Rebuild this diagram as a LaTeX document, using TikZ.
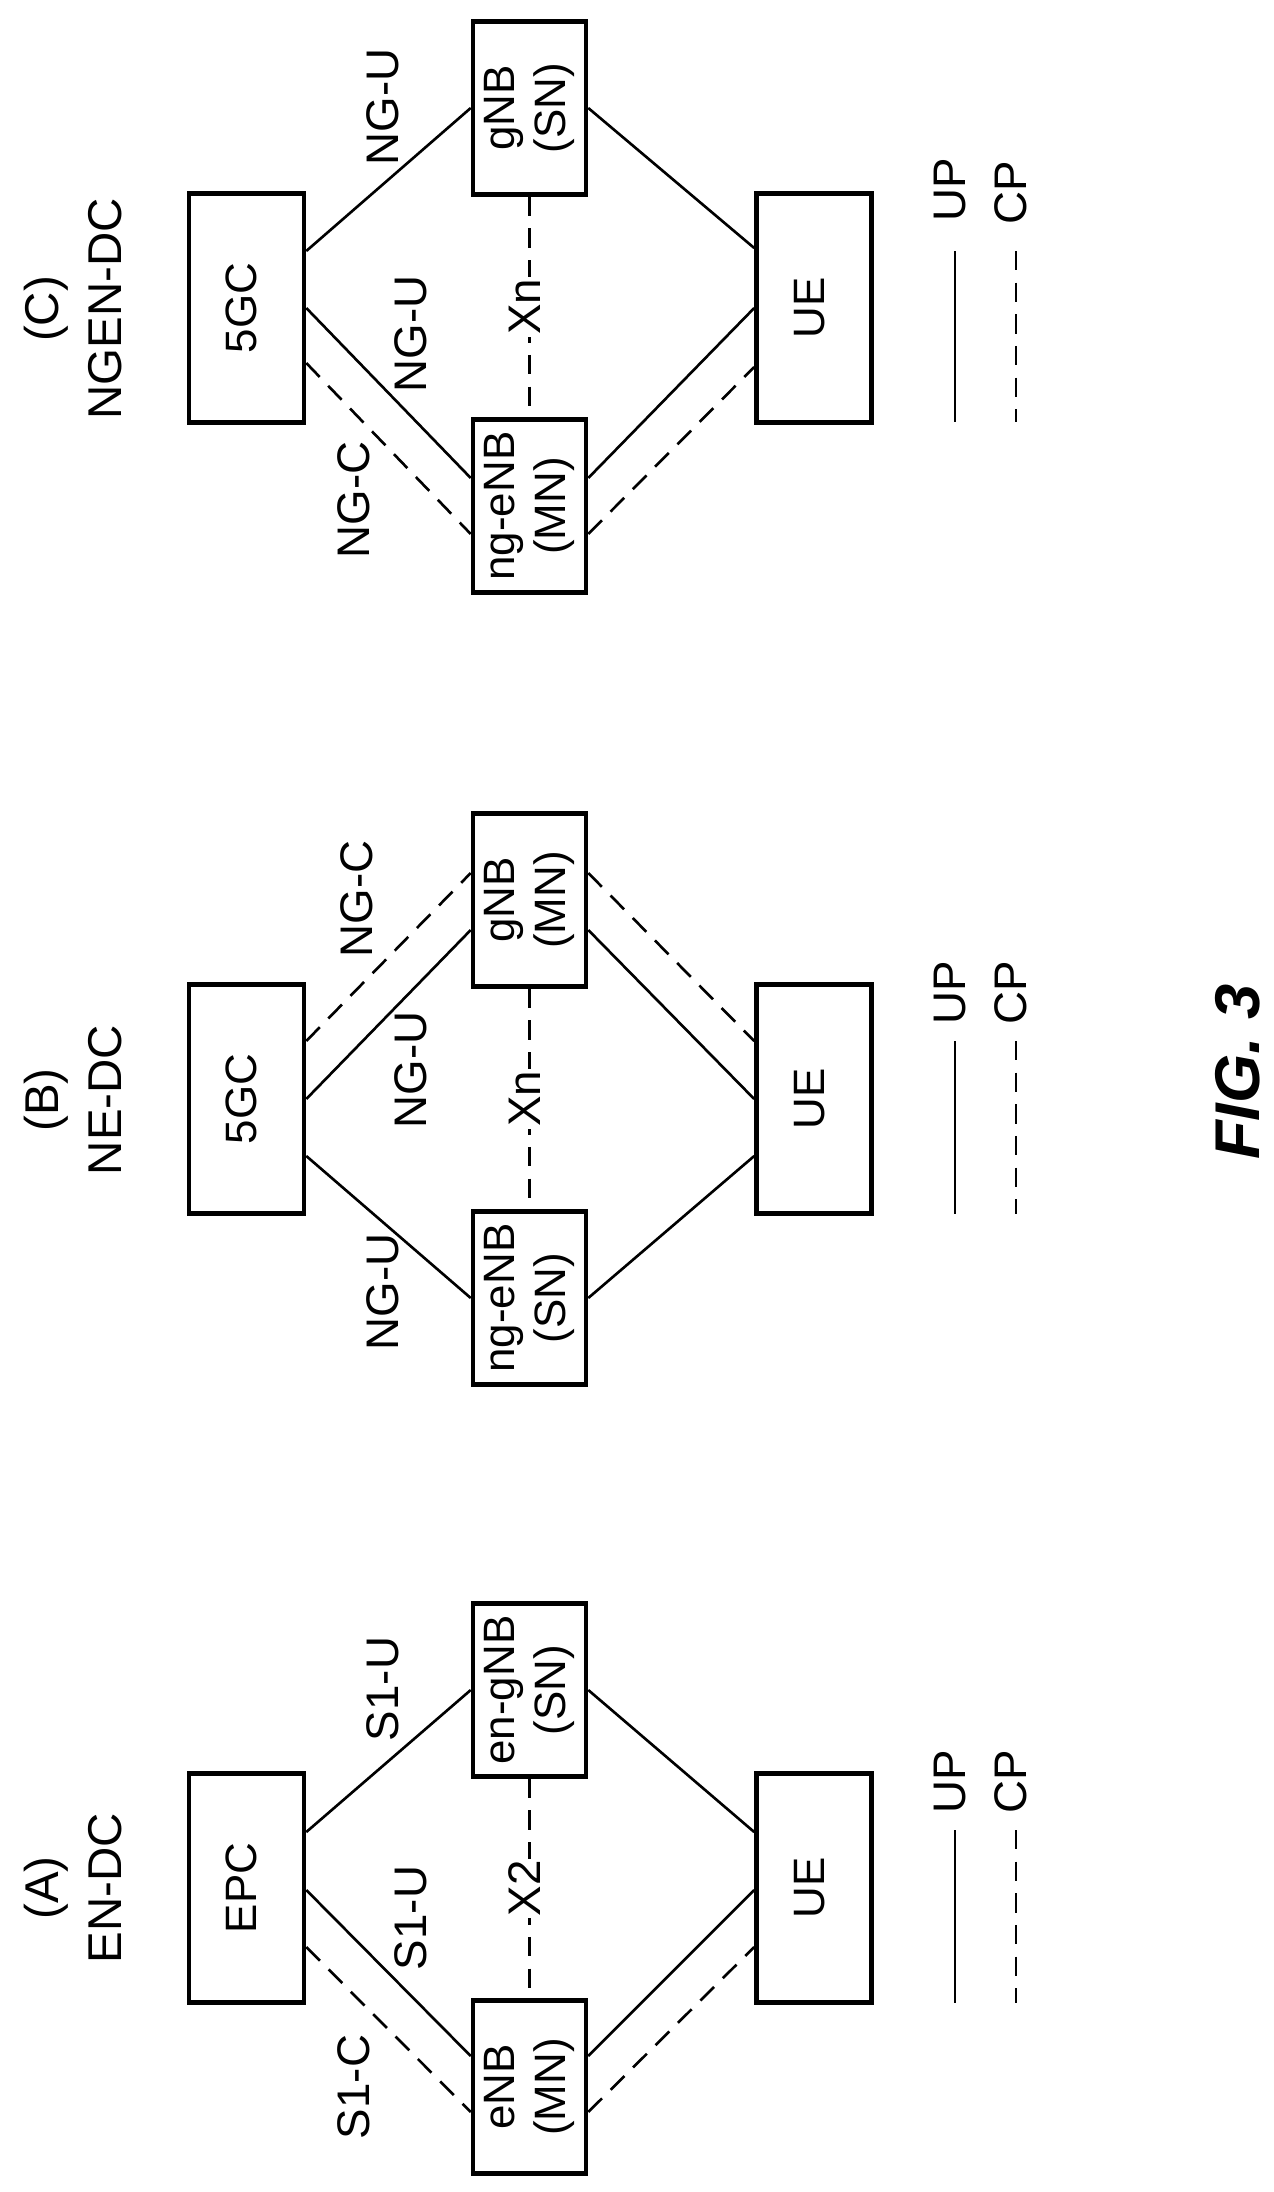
\documentclass[tikz,border=0pt]{standalone}
\usepackage{fontspec}
\setmainfont{Liberation Sans}
\begin{document}
\begin{tikzpicture}[x=0.02cm,y=-0.02cm,
  core/.style={draw,line width=2.6pt,minimum width=2.3cm,minimum height=4.58cm,inner sep=0pt,font=\fontsize{25}{29}\selectfont},
  mid/.style={draw,line width=2.6pt,minimum width=2.26cm,minimum height=3.46cm,inner sep=0pt,font=\fontsize{25}{29}\selectfont},
  up/.style={line width=1.5pt},
  cp/.style={line width=1.5pt,dash pattern=on 11pt off 7pt},
  lbl/.style={font=\fontsize{26}{30}\selectfont,inner sep=1pt},
  ttl/.style={font=\fontsize{27}{36}\selectfont,align=center},
]
\newcommand{\rt}[1]{\rotatebox{90}{\begin{tabular}{@{}c@{}}#1\end{tabular}}}
\fill[white] (0,0) rectangle (1274,2192);
\useasboundingbox (0,0) rectangle (1274,2192);

% ---------- Panel A ----------
\node[ttl] (tA) at (77,1888) {\rt{(A)\\EN-DC}};
\node[core] (epc) at (246.5,1888) {\rt{EPC}};
\node[mid] (engnb) at (529.5,1690) {\rt{en-gNB\\(SN)}};
\node[mid] (enb) at (529.5,2087) {\rt{eNB\\(MN)}};
\node[core] (ueA) at (814,1888) {\rt{UE}};
\draw[up] ([yshift=1.12cm]epc.east) -- (engnb.west);
\draw[up] ([yshift=-0.04cm]epc.east) -- ([yshift=0.62cm]enb.west);
\draw[cp] ([yshift=-1.18cm]epc.east) -- ([yshift=-0.5cm]enb.west);
\draw[up] ([yshift=0.62cm]enb.east) -- ([yshift=-0.04cm]ueA.west);
\draw[cp] ([yshift=-0.5cm]enb.east) -- ([yshift=-1.18cm]ueA.west);
\draw[up] (engnb.east) -- ([yshift=1.12cm]ueA.west);
\draw[cp] (engnb.south) -- node[lbl,fill=white] (x2) {\rt{X2}} (enb.north);
\node[lbl] (s1uA) at (388,1689) {\rt{S1-U}};
\node[lbl] (s1uB) at (416,1918) {\rt{S1-U}};
\node[lbl] (s1c) at (359,2087) {\rt{S1-C}};
\coordinate (la1) at (955,1830); \coordinate (la2) at (955,2003);
\coordinate (la3) at (1016,1830); \coordinate (la4) at (1016,2003);
\draw[up] (la1) -- (la2); \draw[cp] (la3) -- (la4);
\node[lbl] (upA) at (955,1782) {\rt{UP}};
\node[lbl] (cpA) at (1016,1782) {\rt{CP}};

% ---------- Panel B ----------
\node[ttl] (tB) at (77,1100) {\rt{(B)\\NE-DC}};
\node[core] (gcB) at (246.5,1099) {\rt{5GC}};
\node[mid] (gnbB) at (529.5,900) {\rt{gNB\\(MN)}};
\node[mid] (ngenbB) at (529.5,1298) {\rt{ng-eNB\\(SN)}};
\node[core] (ueB) at (814,1099) {\rt{UE}};
\draw[cp] ([yshift=1.16cm]gcB.east) -- ([yshift=0.54cm]gnbB.west);
\draw[up] (gcB.east) -- ([yshift=-0.6cm]gnbB.west);
\draw[up] ([yshift=-1.14cm]gcB.east) -- (ngenbB.west);
\draw[up] ([yshift=-0.6cm]gnbB.east) -- (ueB.west);
\draw[cp] ([yshift=0.54cm]gnbB.east) -- ([yshift=1.16cm]ueB.west);
\draw[up] (ngenbB.east) -- ([yshift=-1.14cm]ueB.west);
\draw[cp] (gnbB.south) -- node[lbl,fill=white] (xnB) {\rt{Xn}} (ngenbB.north);
\node[lbl] (ngcB) at (362,899) {\rt{NG-C}};
\node[lbl] (nguB1) at (416,1070) {\rt{NG-U}};
\node[lbl] (nguB2) at (388,1292) {\rt{NG-U}};
\coordinate (lb1) at (955,1041); \coordinate (lb2) at (955,1214);
\coordinate (lb3) at (1016,1041); \coordinate (lb4) at (1016,1214);
\draw[up] (lb1) -- (lb2); \draw[cp] (lb3) -- (lb4);
\node[lbl] (upB) at (955,993) {\rt{UP}};
\node[lbl] (cpB) at (1016,993) {\rt{CP}};
\node[font=\fontsize{36}{40}\selectfont\bfseries\itshape] (fig) at (1238,1072) {\rotatebox{90}{FIG. 3}};

% ---------- Panel C ----------
\node[ttl] (tC) at (77,309) {\rt{(C)\\NGEN-DC}};
\node[core] (gcC) at (246.5,308) {\rt{5GC}};
\node[mid] (gnbC) at (529.5,108) {\rt{gNB\\(SN)}};
\node[mid] (ngenbC) at (529.5,506) {\rt{ng-eNB\\(MN)}};
\node[core] (ueC) at (814,308) {\rt{UE}};
\draw[up] ([yshift=1.14cm]gcC.east) -- (gnbC.west);
\draw[up] (gcC.east) -- ([yshift=0.56cm]ngenbC.west);
\draw[cp] ([yshift=-1.1cm]gcC.east) -- ([yshift=-0.56cm]ngenbC.west);
\draw[up] ([yshift=0.56cm]ngenbC.east) -- (ueC.west);
\draw[cp] ([yshift=-0.56cm]ngenbC.east) -- ([yshift=-1.18cm]ueC.west);
\draw[up] (gnbC.east) -- ([yshift=1.2cm]ueC.west);
\draw[cp] (gnbC.south) -- node[lbl,fill=white] (xnC) {\rt{Xn}} (ngenbC.north);
\node[lbl] (nguC1) at (388,107) {\rt{NG-U}};
\node[lbl] (nguC2) at (416,334) {\rt{NG-U}};
\node[lbl] (ngcC) at (359,500) {\rt{NG-C}};
\coordinate (lc1) at (955,251); \coordinate (lc2) at (955,422);
\coordinate (lc3) at (1016,251); \coordinate (lc4) at (1016,422);
\draw[up] (lc1) -- (lc2); \draw[cp] (lc3) -- (lc4);
\node[lbl] (upC) at (955,190) {\rt{UP}};
\node[lbl] (cpC) at (1016,193) {\rt{CP}};
\end{tikzpicture}
\end{document}
